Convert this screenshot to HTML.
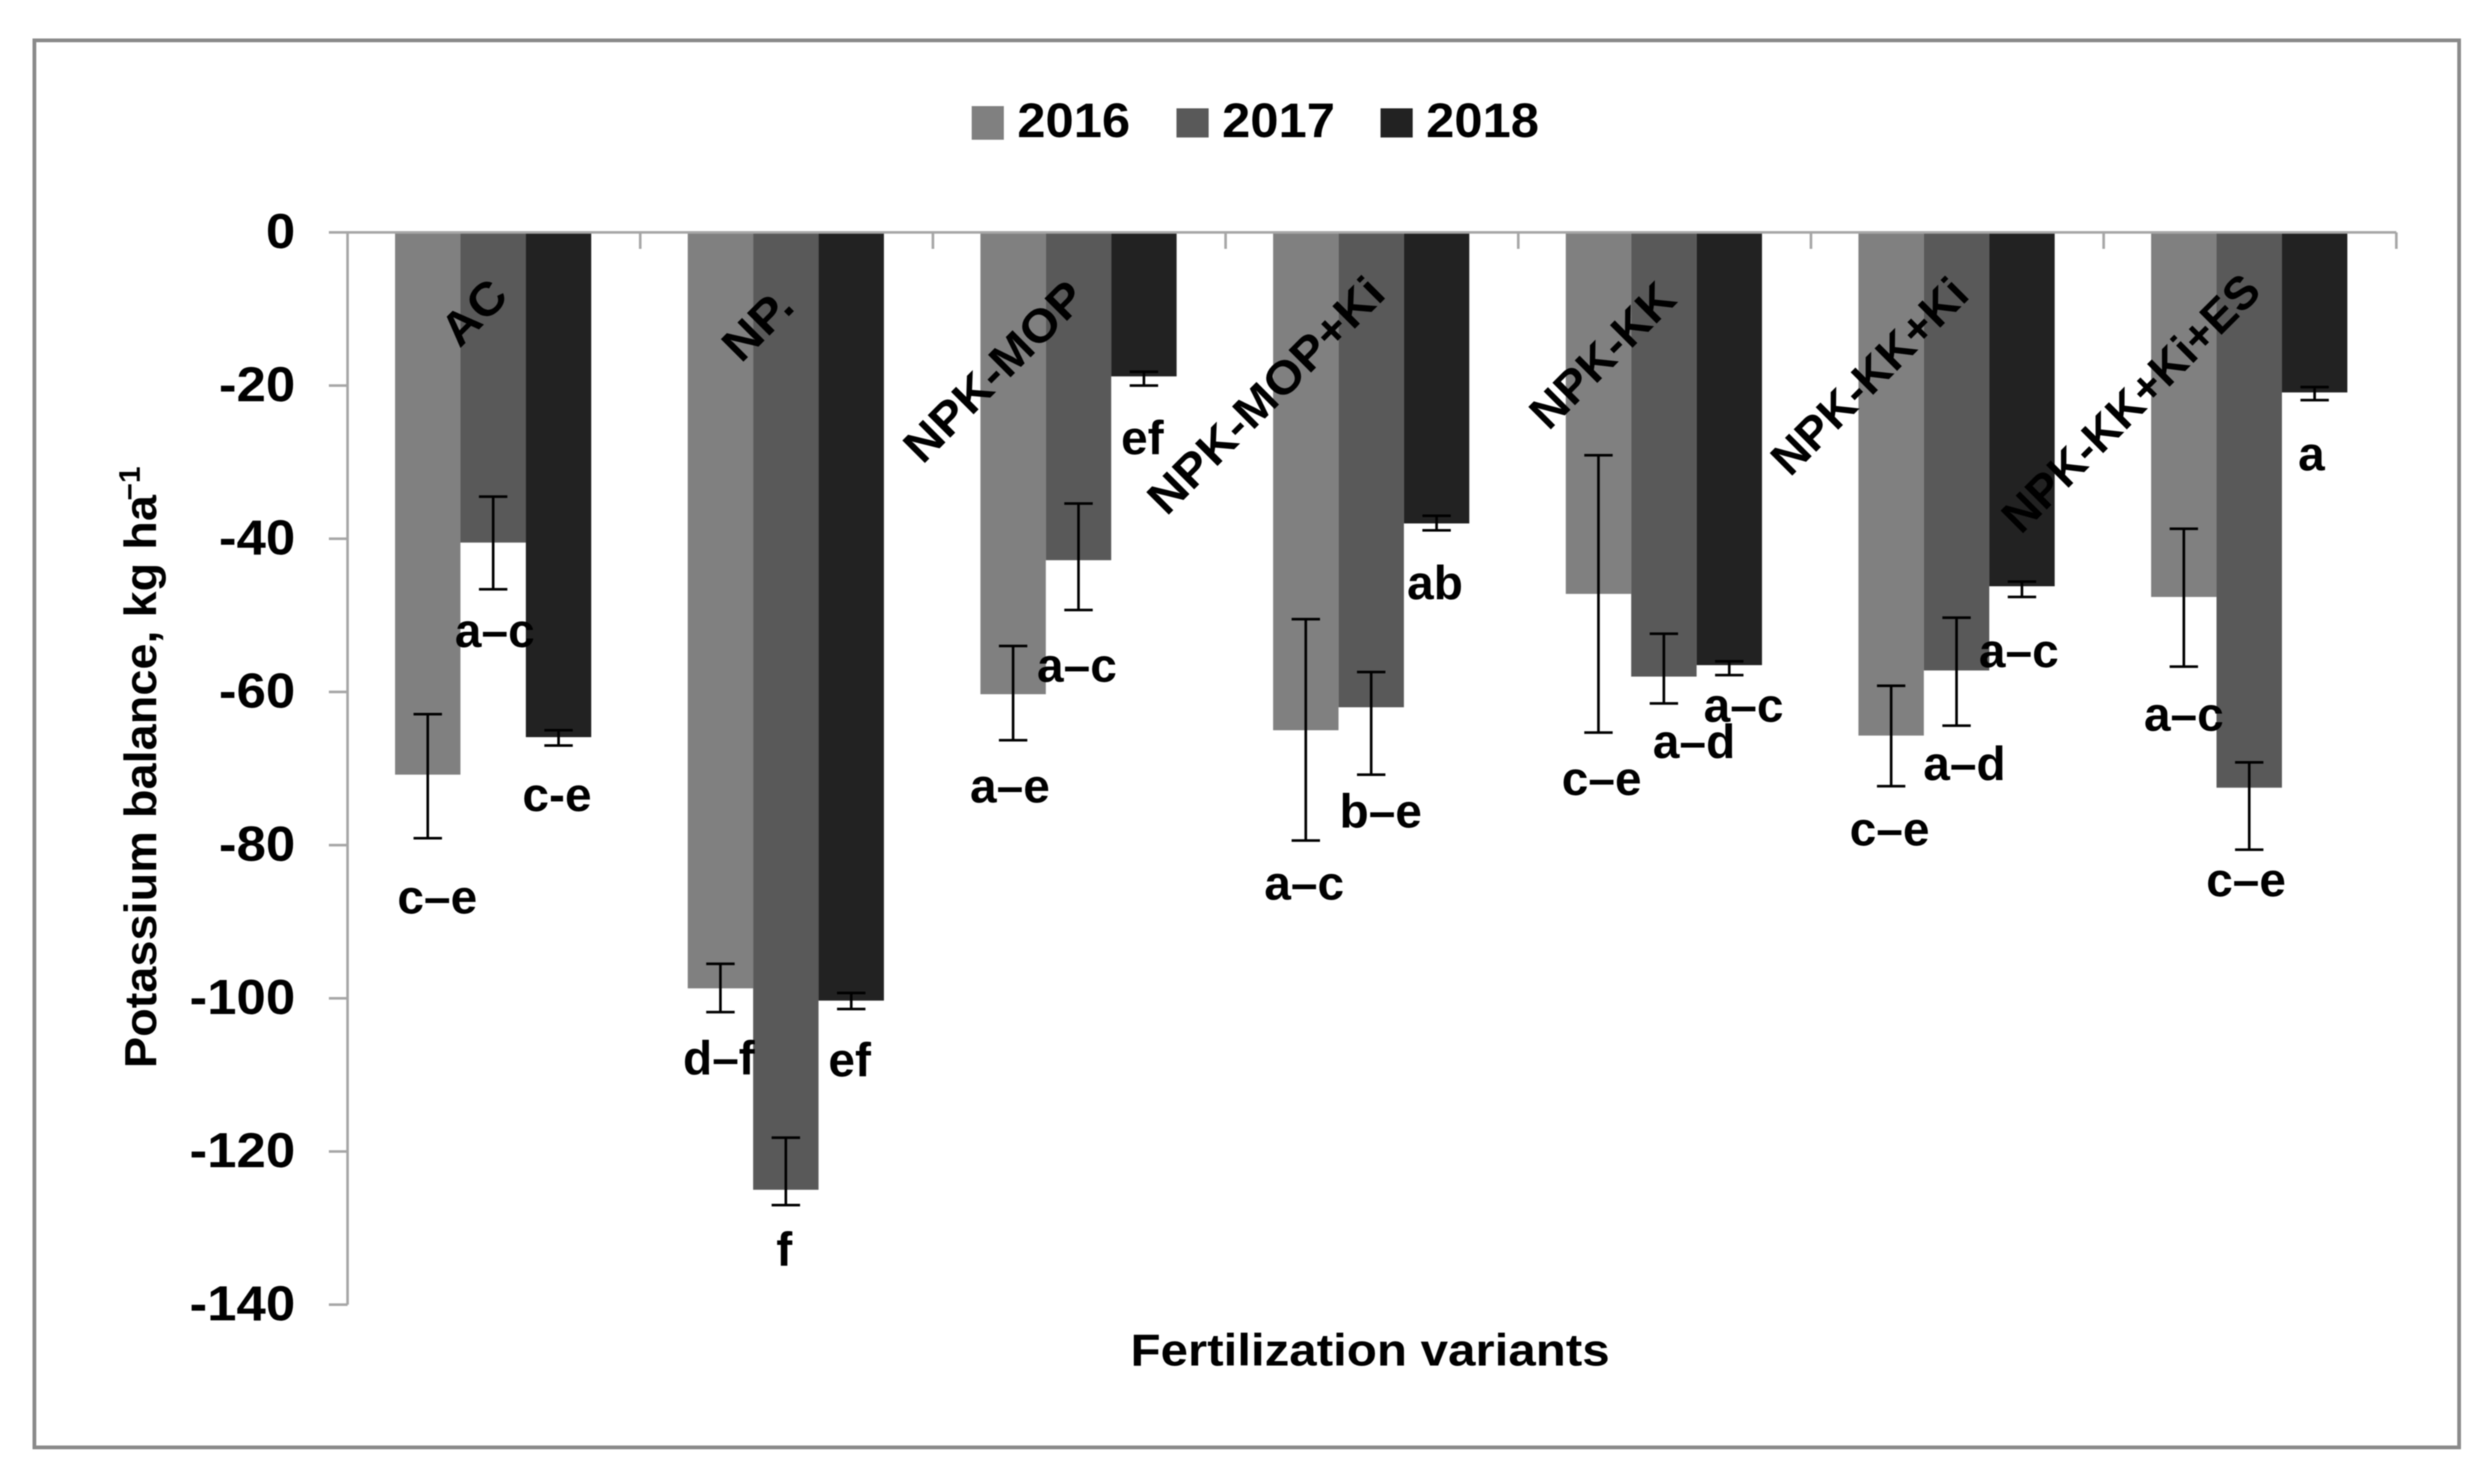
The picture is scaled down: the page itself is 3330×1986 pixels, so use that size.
<!DOCTYPE html>
<html>
<head>
<meta charset="utf-8">
<title>Potassium balance chart</title>
<style>
html,body{margin:0;padding:0;background:#fff;width:3330px;height:1986px;overflow:hidden}
svg{display:block;filter:blur(0.8px)}
text{font-family:"Liberation Sans",sans-serif;font-weight:bold;fill:#000}
</style>
</head>
<body>
<svg id="chart" xmlns="http://www.w3.org/2000/svg" width="3330" height="1986" viewBox="0 0 3330 1986">
  <rect x="0" y="0" width="3330" height="1986" fill="#fff"/>
  <rect x="46" y="54" width="3244" height="1883" fill="#fff" stroke="#8a8a8a" stroke-width="5"/>
  <g id="bars"></g>
  <g id="axes"></g>
  <g id="catlabels"></g>
  <g id="errors"></g>
  <g id="letters"></g>
  <g id="legend"></g>
  <text x="1833" y="1807" font-size="60" text-anchor="middle" dominant-baseline="central" textLength="641" lengthAdjust="spacingAndGlyphs">Fertilization variants</text>
  <text transform="translate(209 1046) rotate(-90)" font-size="60" text-anchor="middle" textLength="767" lengthAdjust="spacingAndGlyphs">Potassium balance, kg ha</text>
  <text transform="translate(187 647) rotate(-90)" font-size="40" text-anchor="middle">−1</text>
</svg>
<script>
const categories = ["AC","NP.","NPK-MOP","NPK-MOP+Ki","NPK-KK","NPK-KK+Ki","NPK-KK+Ki+ES"];
const seriesNames = ["2016","2017","2018"];
const values2016 = [-70.8,-98.7,-60.3,-65,-47.2,-65.7,-47.6];
const values2017 = [-40.5,-125,-42.8,-62,-58,-57.2,-72.5];
const values2018 = [-65.9,-100.3,-18.8,-38,-56.5,-46.2,-20.9];
const errTop2016 = [-62.9,-95.5,-54,-50.5,-29.1,-59.2,-38.7];
const errTop2017 = [-34.5,-118.2,-35.4,-57.4,-52.4,-50.3,-69.2];
const errTop2018 = [-65,-99.3,-18.2,-37,-56,-45.6,-20.2];
const errBottom2016 = [-79.1,-101.8,-66.3,-79.4,-65.3,-72.3,-56.7];
const errBottom2017 = [-46.6,-127,-49.3,-70.8,-61.5,-64.4,-80.6];
const errBottom2018 = [-67,-101.4,-20,-38.9,-57.8,-47.6,-21.9];
const letters2016 = ["c–e","d–f","a–e","a–c","c–e","c–e","a–c"];
const letters2017 = ["a–c","f","a–c","b–e","a–d","a–d","c–e"];
const letters2018 = ["c-e","ef","ef","ab","a–c","a–c","a"];
const yTicks = [0,-20,-40,-60,-80,-100,-120,-140];

const seriesValues = [values2016, values2017, values2018];
const seriesTop = [errTop2016, errTop2017, errTop2018];
const seriesBottom = [errBottom2016, errBottom2017, errBottom2018];
const seriesLetters = [letters2016, letters2017, letters2018];
const colors = ["#808080","#595959","#222222"];

/* layout: hand-placed nudges of annotations relative to their marks */
const K = 2.124;
const nudgeX = [[6,1,-1],[-1,-1,-1],[-2,-1,-1],[-1,6,-1],[2,19,9],[-1,5,-2],[0,-2,-2]];
const nudgeY = [[37,26,31],[29,28,32],[29,35,33],[27,23,33],[29,24,19],[27,24,34],[30,19,34]];
const catNudge = [[-26,418],[-38,435],[-113,497],[-141,529],[-82,476],[-116,504],[-158,540]];
const catStretch = [1.07,1.1,1.07,1.07,1.02,1.01,1.0];

const axisLeft = 465, axisRight = 3206, y0 = 311, unit = 10.25;
const band = (axisRight - axisLeft) / categories.length;
const barW = 87.5;
function yScale(v){ return y0 - v * unit; }
function xCenter(i){ return axisLeft + band * (i + 0.5) - 1; }
function xBar(i, s){ return xCenter(i) - barW * 1.5 + barW * s; }

const NS = "http://www.w3.org/2000/svg";
function mk(tag, parent, attrs){
  const el = document.createElementNS(NS, tag);
  for (const k in attrs) el.setAttribute(k, attrs[k]);
  document.getElementById(parent).appendChild(el);
  return el;
}

/* bars */
categories.forEach(function(cat, i){
  seriesValues.forEach(function(vals, s){
    const r = mk("rect", "bars", {x:xBar(i,s), y:yScale(0), width:barW, height:yScale(vals[i])-yScale(0), fill:colors[s]});
    
    
  });
});

/* axes */
const axisAttrs = {stroke:"#a6a6a6","stroke-width":3.5,fill:"none"};
const yLine = mk("line","axes",Object.assign({x1:axisLeft,x2:axisLeft,y1:yScale(0),y2:yScale(yTicks[yTicks.length-1])},axisAttrs));


const xLine = mk("line","axes",Object.assign({x1:axisLeft,x2:axisRight,y1:yScale(0),y2:yScale(0)},axisAttrs));


yTicks.forEach(function(t){
  const tk = mk("line","axes",Object.assign({x1:axisLeft-25,x2:axisLeft,y1:yScale(t),y2:yScale(t)},axisAttrs));
  
  
  const lb = mk("text","axes",{x:395,y:yScale(t)-2,"font-size":66,"text-anchor":"end","dominant-baseline":"central",lengthAdjust:"spacingAndGlyphs"});
  lb.textContent = String(t);
  lb.setAttribute('textLength', lb.getComputedTextLength() * 1.07);
  
  
});
for (let i = 1; i <= categories.length; i++){
  const tk = mk("line","axes",Object.assign({x1:axisLeft+band*i,x2:axisLeft+band*i,y1:yScale(0),y2:yScale(0)+22},axisAttrs));
  
  
}

/* category labels */
categories.forEach(function(cat, i){
  const cx = xCenter(i) + catNudge[i][0], cy = catNudge[i][1];
  const t = mk("text","catlabels",{transform:"translate("+cx+" "+cy+") rotate(-45) scale("+catStretch[i]+" 1)","font-size":62,"text-anchor":"middle","dominant-baseline":"central"});
  t.textContent = cat;
  
  
});

/* error bars and significance letters */
categories.forEach(function(cat, i){
  seriesValues.forEach(function(vals, s){
    const cx = xBar(i,s) + barW/2;
    const yt = yScale(seriesTop[s][i]), yb = yScale(seriesBottom[s][i]);
    const p = mk("path","errors",{d:"M"+(cx-19)+" "+yt+"H"+(cx+19)+"M"+cx+" "+yt+"V"+yb+"M"+(cx-19)+" "+yb+"H"+(cx+19),stroke:"#000","stroke-width":3.5,fill:"none"});
    
    
    const t = mk("text","letters",{x:cx+nudgeX[i][s]*K,y:yb+nudgeY[i][s]*K,"font-size":64,"text-anchor":"middle","dominant-baseline":"central"});
    t.textContent = seriesLetters[s][i];
    
    
  });
});

/* legend */
const legendSwatchX = [1300,1574,1847];
const legendTextX = [1361,1635,1908];
seriesNames.forEach(function(name, s){
  const sw = mk("rect","legend",{x:legendSwatchX[s],y:s===0?142:145,width:43,height:s===0?45:39,fill:colors[s]});
  
  
  const t = mk("text","legend",{x:legendTextX[s],y:161,"font-size":65,"dominant-baseline":"central",textLength:151,lengthAdjust:"spacingAndGlyphs"});
  t.textContent = name;
  
  
});
</script>
</body>
</html>
